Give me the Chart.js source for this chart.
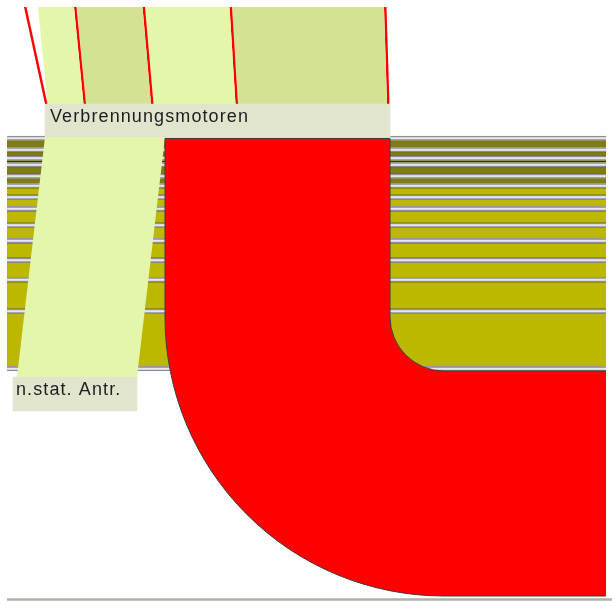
<!DOCTYPE html>
<html>
<head>
<meta charset="utf-8">
<script src="https://cdn.jsdelivr.net/npm/chart.js@4.4.1/dist/chart.umd.min.js"></script>
<style>
  html, body { margin: 0; padding: 0; background: #fff; }
  #wrap { width: 612px; height: 609px; position: relative; }
</style>
</head>
<body>
<div id="wrap"><canvas id="sankey"></canvas></div>
<script>
// flows entering "Verbrennungsmotoren" from above, left to right
const inflowValues = [2.5, 36, 2.5, 65, 2.5, 82, 2.5, 149, 2.5];
// flows leaving "Verbrennungsmotoren", left to right
const outflowValues = [120, 225];
// flows passing horizontally on the right, top to bottom (the red bend joins below them)
const passValues = [7, 4, 2, 7, 5, 7, 7, 12, 11, 15, 15, 27, 53];
const nodeLabels = ['Verbrennungsmotoren', 'n.stat. Antr.'];

// layout (pixels in the 612 x 609 frame)
const L = {
  nodeX: 45, nodeTop: 104, nodeBottom: 137,
  inflowTop: 7,
  shiftL: [-21, -9.5, -9.5, -9, -8.5, -8.5, -6, -6, -3],
  shiftR: [-21, -9.5, -9.5, -8.5, -8.5, -6, -6, -3, -3],
  passTop: 136, passLeft: 7, passRight: 606, gap: 4.5,
  low: { x0: 13, x1: 137, y0: 377, y1: 411, bandX: 17 },
  bendInner: 54,
  frameY: 599.5
};

const RED = '#ff0000';
const LIGHT = '#e4f6a9';
const DARK = '#d3e393';
const NODE = '#e2e5cd';
const inflowColors = [RED, LIGHT, RED, DARK, RED, LIGHT, RED, DARK, RED];
const passColors = ['#7e7c14', '#7e7c14', '#2e2e2a', '#7e7c14', '#7e7c14',
  '#bcb800', '#bcb800', '#bcb800', '#bcb800', '#bcb800', '#bcb800', '#bcb800', '#bcb800'];

// horizontal stripes: separator, flow, separator, flow ... separator
const segs = [];
let yy = L.passTop;
passValues.forEach((v, i) => {
  segs.push({ y0: yy, y1: yy + L.gap, sep: true });
  yy += L.gap;
  segs.push({ y0: yy, y1: yy + v, sep: false, color: passColors[i] });
  yy += v;
});
segs.push({ y0: yy, y1: yy + L.gap, sep: true });
yy += L.gap;
const redTop = yy;

// inflow bands
let cx = L.nodeX;
const inflowSets = inflowValues.map((v, i) => {
  const x0 = cx, x1 = cx + v;
  cx = x1;
  return {
    type: 'line', order: 2,
    data: [
      { x: x0 + L.shiftL[i], y: L.inflowTop },
      { x: x1 + L.shiftR[i], y: L.inflowTop },
      { x: x1, y: L.nodeTop },
      { x: x0, y: L.nodeTop }
    ],
    fill: 'shape', backgroundColor: inflowColors[i], borderWidth: 0, pointRadius: 0
  };
});

const lowBand = {
  type: 'line', order: 1,
  data: [
    { x: L.nodeX, y: L.nodeBottom },
    { x: L.nodeX + outflowValues[0], y: L.nodeBottom },
    { x: L.low.bandX + outflowValues[0], y: L.low.y0 },
    { x: L.low.bandX, y: L.low.y0 }
  ],
  fill: 'shape', backgroundColor: LIGHT, borderWidth: 0, pointRadius: 0
};

const stripes = {
  type: 'bar', order: 3, grouped: false,
  barThickness: L.passRight - L.passLeft,
  data: segs.map(s => ({ x: (L.passLeft + L.passRight) / 2, y: [s.y0, s.y1] })),
  backgroundColor: segs.map(s => s.sep ? '#e6e6ec' : s.color),
  borderColor: segs.map(s => s.sep ? '#8e8e96' : '#6c6a06'),
  borderWidth: ctx => segs[ctx.dataIndex] && segs[ctx.dataIndex].sep
    ? { top: 1.5, bottom: 1.5, left: 0, right: 0 }
    : { top: 0.8, bottom: 0.8, left: 0, right: 0 },
  borderSkipped: false
};

const nodeTotal = outflowValues[0] + outflowValues[1];
const nodeMain = {
  type: 'bar', order: 0, grouped: false,
  barThickness: nodeTotal,
  data: [{ x: L.nodeX + nodeTotal / 2, y: [L.nodeTop, L.nodeBottom] }],
  backgroundColor: NODE, borderWidth: 0
};
const nodeLow = {
  type: 'bar', order: 0, grouped: false,
  barThickness: L.low.x1 - L.low.x0,
  data: [{ x: (L.low.x0 + L.low.x1) / 2, y: [L.low.y0, L.low.y1] }],
  backgroundColor: NODE, borderWidth: 0
};

// red flow bending from the node down and to the right
const bendPlugin = {
  id: 'bend',
  afterDatasetsDraw(chart) {
    const { ctx, scales: { x, y } } = chart;
    const left = L.nodeX + outflowValues[0];
    const right = left + outflowValues[1];
    const bottom = redTop + outflowValues[1];
    const ccx = right + L.bendInner;
    const ccy = redTop - L.bendInner;
    const px = v => x.getPixelForValue(v);
    const py = v => y.getPixelForValue(v);
    const rIn = px(ccx) - px(right);
    const rOut = px(ccx) - px(left);
    ctx.save();
    ctx.beginPath();
    ctx.moveTo(px(L.passRight), py(bottom));
    ctx.lineTo(px(ccx), py(bottom));
    ctx.arc(px(ccx), py(ccy), rOut, Math.PI / 2, Math.PI, false);
    ctx.lineTo(px(left), py(L.nodeBottom + 1.5));
    ctx.lineTo(px(right), py(L.nodeBottom + 1.5));
    ctx.lineTo(px(right), py(ccy));
    ctx.arc(px(ccx), py(ccy), rIn, Math.PI, Math.PI / 2, true);
    ctx.lineTo(px(L.passRight), py(redTop));
    ctx.fillStyle = RED;
    ctx.fill();
    ctx.lineWidth = 1;
    ctx.strokeStyle = '#3c3c3c';
    ctx.stroke();

    // frame line at the bottom
    ctx.beginPath();
    ctx.moveTo(px(L.passLeft), py(L.frameY));
    ctx.lineTo(px(612), py(L.frameY));
    ctx.lineWidth = 2.5;
    ctx.strokeStyle = '#b3afa3';
    ctx.stroke();

    // node labels
    ctx.font = '18px "Liberation Sans", Arial, sans-serif';
    ctx.letterSpacing = '1.1px';
    ctx.fillStyle = '#1e1e1e';
    ctx.textBaseline = 'alphabetic';
    ctx.fillText(nodeLabels[0], px(L.nodeX + 5), py(121.5));
    ctx.fillText(nodeLabels[1], px(L.low.x0 + 3), py(394.5));
    ctx.restore();
  }
};

new Chart(document.getElementById('sankey'), {
  type: 'scatter',
  data: { datasets: [nodeMain, nodeLow, lowBand, ...inflowSets, stripes] },
  options: {
    responsive: true,
    maintainAspectRatio: false,
    animation: false,
    events: [],
    layout: { padding: 0 },
    plugins: { legend: { display: false }, tooltip: { enabled: false } },
    scales: {
      x: { type: 'linear', min: 0, max: 612, offset: false, display: false, grid: { offset: false } },
      y: { type: 'linear', min: 0, max: 609, reverse: true, display: false }
    },
    elements: { point: { radius: 0 }, line: { tension: 0 } }
  },
  plugins: [bendPlugin]
});
</script>
</body>
</html>
